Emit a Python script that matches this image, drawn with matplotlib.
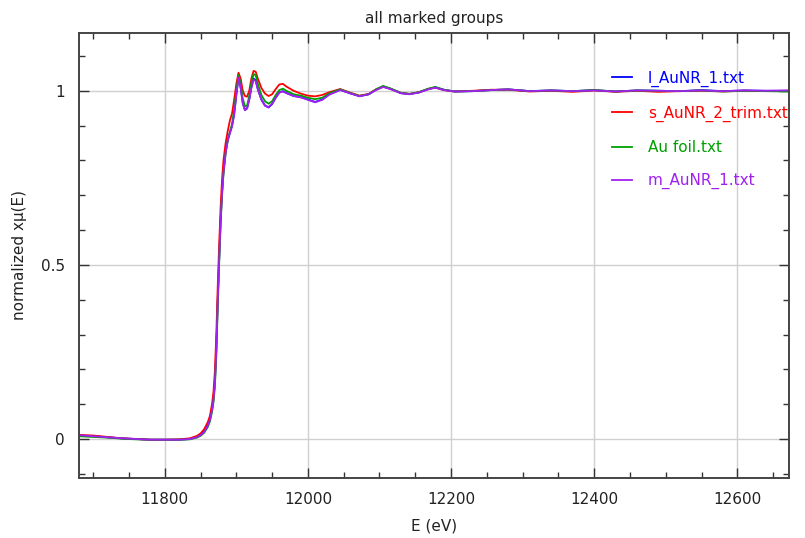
import numpy as np
from matplotlib import pyplot as plt
from matplotlib.ticker import MultipleLocator

# energy grid (eV), shared by all groups
energy = [11680, 11700, 11720, 11740, 11760, 11780, 11800, 11820, 11835, 11845,
          11850, 11855, 11860, 11863, 11866, 11868, 11870, 11872, 11874, 11876,
          11878, 11880, 11882, 11885, 11888, 11891, 11894, 11897, 11900, 11903,
          11906, 11909, 11912, 11915, 11918, 11921, 11924, 11927, 11930, 11935,
          11940, 11945, 11950, 11955, 11960, 11965, 11970, 11980, 11990, 12000,
          12010, 12020, 12030, 12045, 12060, 12072, 12085, 12095, 12105, 12115,
          12130, 12142, 12155, 12168, 12178, 12190, 12205, 12230, 12256, 12280,
          12310, 12340, 12370, 12400, 12430, 12460, 12490, 12520, 12550, 12580,
          12610, 12640, 12670]

l_aunr_1 = [0.010, 0.008, 0.005, 0.002, 0.000, -0.002, -0.002, -0.002, 0.000, 0.006,
            0.012, 0.022, 0.040, 0.056, 0.085, 0.115, 0.165, 0.260, 0.400, 0.520,
            0.630, 0.710, 0.770, 0.825, 0.860, 0.880, 0.900, 0.935, 0.990, 1.040,
            1.010, 0.965, 0.945, 0.950, 0.975, 1.010, 1.035, 1.030, 1.005, 0.975,
            0.958, 0.952, 0.962, 0.980, 0.995, 0.999, 0.994, 0.985, 0.982, 0.975,
            0.968, 0.975, 0.990, 1.003, 0.992, 0.985, 0.990, 1.003, 1.012, 1.006,
            0.993, 0.991, 0.995, 1.005, 1.010, 1.003, 0.998, 0.999, 1.002, 1.004,
            0.999, 1.001, 0.999, 1.002, 0.998, 1.001, 1.000, 0.999, 1.002, 0.999,
            1.001, 1.000, 1.000]

s_aunr_2 = [0.012, 0.010, 0.006, 0.002, 0.000, -0.002, -0.002, -0.001, 0.002, 0.009,
            0.016, 0.028, 0.048, 0.066, 0.100, 0.135, 0.195, 0.300, 0.440, 0.560,
            0.665, 0.745, 0.800, 0.850, 0.885, 0.915, 0.935, 0.975, 1.020, 1.052,
            1.035, 1.000, 0.985, 0.983, 1.000, 1.035, 1.057, 1.055, 1.035, 1.008,
            0.992, 0.985, 0.990, 1.005, 1.018, 1.020, 1.012, 1.000, 0.992, 0.986,
            0.984, 0.988, 0.996, 1.005, 0.994, 0.986, 0.991, 1.004, 1.012, 1.006,
            0.994, 0.991, 0.996, 1.005, 1.009, 1.002, 0.998, 1.000, 1.003, 1.003,
            0.998, 1.000, 0.997, 1.001, 0.997, 1.000, 0.997, 0.999, 1.000, 0.998,
            1.000, 0.999, 1.000]

au_foil = [0.008, 0.006, 0.004, 0.001, -0.001, -0.002, -0.002, -0.002, -0.001, 0.004,
           0.009, 0.018, 0.034, 0.050, 0.078, 0.105, 0.150, 0.240, 0.380, 0.505,
           0.615, 0.700, 0.760, 0.820, 0.858, 0.882, 0.905, 0.945, 1.000, 1.045,
           1.020, 0.978, 0.955, 0.958, 0.985, 1.022, 1.048, 1.045, 1.020, 0.988,
           0.970, 0.963, 0.970, 0.988, 1.002, 1.006, 1.000, 0.990, 0.986, 0.980,
           0.976, 0.980, 0.993, 1.004, 0.993, 0.985, 0.990, 1.004, 1.014, 1.007,
           0.994, 0.991, 0.996, 1.006, 1.011, 1.003, 0.998, 0.999, 1.002, 1.004,
           0.999, 1.001, 0.999, 1.002, 0.998, 1.001, 1.000, 0.999, 1.001, 0.998,
           1.000, 0.999, 0.998]

m_aunr_1 = [0.011, 0.008, 0.005, 0.002, 0.000, -0.002, -0.002, -0.002, 0.000, 0.005,
            0.011, 0.020, 0.038, 0.054, 0.083, 0.112, 0.160, 0.255, 0.395, 0.515,
            0.625, 0.705, 0.765, 0.822, 0.857, 0.878, 0.898, 0.932, 0.988, 1.038,
            1.008, 0.963, 0.944, 0.949, 0.974, 1.008, 1.032, 1.028, 1.004, 0.974,
            0.957, 0.953, 0.963, 0.981, 0.995, 0.998, 0.993, 0.985, 0.981, 0.974,
            0.967, 0.974, 0.989, 1.002, 0.992, 0.984, 0.990, 1.002, 1.011, 1.005,
            0.993, 0.990, 0.995, 1.004, 1.009, 1.002, 0.998, 0.999, 1.002, 1.004,
            0.999, 1.001, 0.999, 1.001, 0.998, 1.001, 1.000, 0.999, 1.001, 0.999,
            1.001, 1.000, 1.001]

labels = ['l_AuNR_1.txt', 's_AuNR_2_trim.txt', 'Au foil.txt', 'm_AuNR_1.txt']
colors = ['#0000ff', '#ff0000', '#00a000', '#a020f0']

fig = plt.figure(figsize=(8.05, 5.38), dpi=100)
ax = fig.add_axes([0.098, 0.1115, 0.882, 0.8272])

for y, lab, col in zip([l_aunr_1, s_aunr_2, au_foil, m_aunr_1], labels, colors):
    ax.plot(energy, y, color=col, lw=1.3, label=lab)

ax.set_xlim(11680, 12672)
ax.set_ylim(-0.112, 1.166)

# ticks and grid
ax.xaxis.set_major_locator(MultipleLocator(200))
ax.xaxis.set_minor_locator(MultipleLocator(50))
ax.yaxis.set_major_locator(MultipleLocator(0.5))
ax.yaxis.set_minor_locator(MultipleLocator(0.1))
ax.yaxis.set_major_formatter(plt.FuncFormatter(lambda v, p: '%g' % v))
ax.tick_params(which='both', direction='in', top=True, right=True,
               color='#333333', labelsize=11, labelcolor='#222222', pad=10)
ax.tick_params(which='major', length=7, width=1.0)
ax.tick_params(which='minor', length=4, width=1.0)
ax.grid(True, which='major', color='#d0d0d0', lw=1.0)
ax.set_axisbelow(True)
for s in ax.spines.values():
    s.set_color('#444444')
    s.set_linewidth(1.4)

ax.set_xlabel('E (eV)', fontsize=11, color='#222222', labelpad=8)
ax.set_ylabel('normalized x\u03bc(E)', fontsize=11, color='#222222', labelpad=10)
ax.set_title('all marked groups', fontsize=11, color='#222222', pad=7)

leg = ax.legend(loc='upper left', bbox_to_anchor=(0.751, 0.915), frameon=False,
                labelcolor='linecolor', fontsize=11, handlelength=1.3,
                labelspacing=1.2, handletextpad=1.05, borderpad=0,
                borderaxespad=0)
leg.set_clip_on(False)

fig.savefig('out.png', dpi=100)
